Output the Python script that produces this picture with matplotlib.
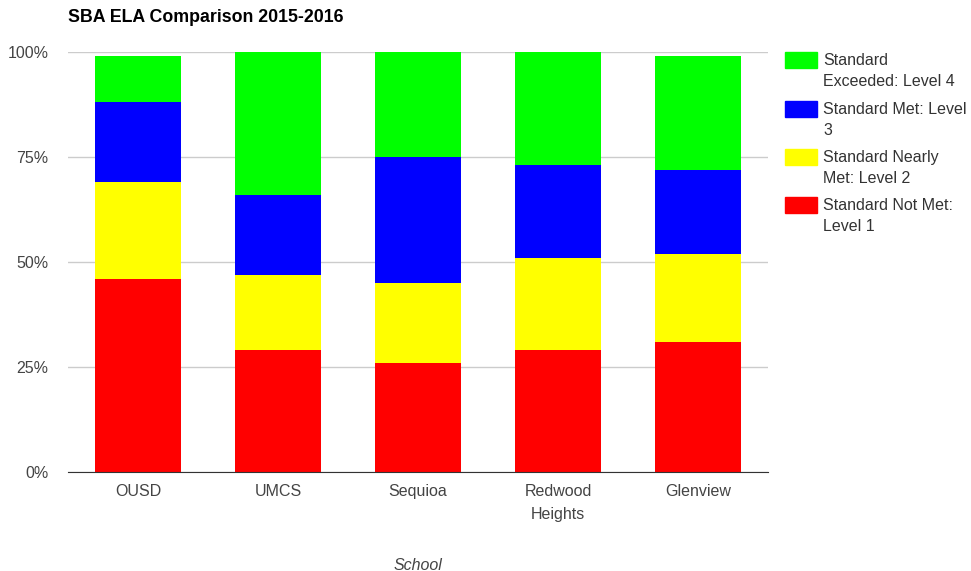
import numpy as np
import matplotlib.pyplot as plt
from matplotlib.patches import Rectangle

plt.rcParams['font.family'] = ['Liberation Sans', 'DejaVu Sans']

schools = ['OUSD', 'UMCS', 'Sequioa', 'Redwood\nHeights', 'Glenview']
# percent of students at each level, bottom to top
level1 = [46, 29, 26, 29, 31]
level2 = [23, 18, 19, 22, 21]
level3 = [19, 19, 30, 22, 20]
level4 = [11, 34, 25, 27, 27]

series = [level1, level2, level3, level4]
labels = ['Standard Not Met:\nLevel 1', 'Standard Nearly\nMet: Level 2',
          'Standard Met: Level\n3', 'Standard\nExceeded: Level 4']
colors = ['#ff0000', '#ffff00', '#0000ff', '#00ff00']

fig = plt.figure(figsize=(9.71, 5.71), dpi=100)
ax = fig.add_axes([0.070, 0.1734, 0.721, 0.7356])

x = np.arange(len(schools))
bottom = np.zeros(len(schools))
for vals, c in zip(series, colors):
    ax.bar(x, vals, 0.61, bottom=bottom, color=c, zorder=2)
    bottom += np.array(vals)

ax.set_xlim(-0.5, len(schools) - 0.5)
ax.set_ylim(0, 100)
ax.set_yticks([0, 25, 50, 75, 100])
ax.set_yticklabels(['0%', '25%', '50%', '75%', '100%'])
ax.set_xticks(x)
ax.set_xticklabels(schools, linespacing=1.6)
ax.grid(axis='y', color='#cccccc', lw=1, zorder=0)
for s in ['top', 'right', 'left']:
    ax.spines[s].set_visible(False)
ax.spines['bottom'].set_color('#333333')
ax.spines['bottom'].set_zorder(3)
ax.tick_params(length=0, labelsize=11.5, labelcolor='#444444')
ax.tick_params(axis='y', pad=14)
ax.tick_params(axis='x', pad=9)
ax.set_xlabel('School', style='italic', fontsize=11.5, color='#444444', labelpad=26)

fig.text(68 / 971, 1 - 18 / 571, 'SBA ELA Comparison 2015-2016', fontsize=12.8,
         fontweight='bold', va='center', ha='left', color='#000000')

# legend, top entry first
W, H = 971, 571
ytop = 60
for i, (lab, c) in enumerate(zip(labels[::-1], colors[::-1])):
    yy = ytop + i * 48.5
    fig.patches.append(Rectangle((785 / W, 1 - (yy + 8) / H), 32 / W, 16 / H,
                                 color=c, transform=fig.transFigure))
    fig.text(823 / W, 1 - (yy - 7) / H, lab, fontsize=11.5, color='#333333',
             va='top', ha='left', linespacing=1.5)

fig.savefig('out.png', dpi=100)
